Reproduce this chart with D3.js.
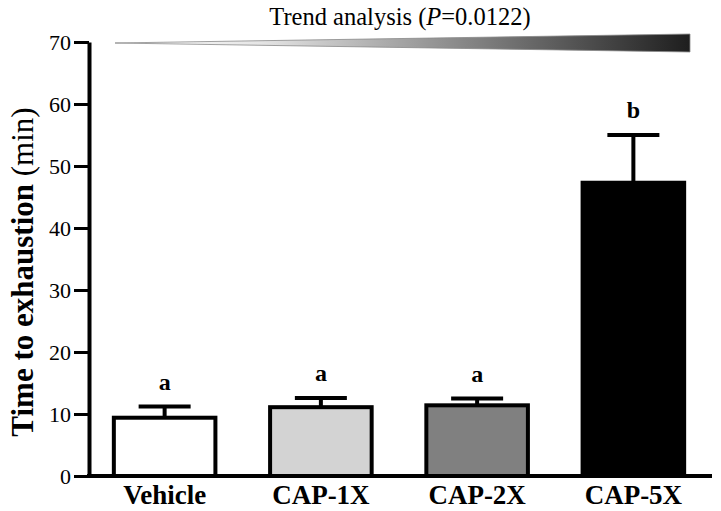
<!DOCTYPE html>
<meta charset="utf-8">
<head>
  <title>Time to exhaustion</title>
</head>
<style>
body { margin: 0; background: #fff; }
svg { display: block; }
text { font-family: "Liberation Serif", "Times New Roman", serif; fill: #000; }
</style>
<body>
<svg width=721 height=511></svg>
<script src="https://cdnjs.cloudflare.com/ajax/libs/d3/7.8.5/d3.min.js"></script>
<script>
var groups = ["Vehicle", "CAP-1X", "CAP-2X", "CAP-5X"];
var means = [9.4, 11.1, 11.4, 47.3];
var errs = [1.8, 1.5, 1.1, 7.7];
var letters = ["a", "a", "a", "b"];
var fills = ["#ffffff", "#d3d3d3", "#808080", "#000000"];
var yTicks = [0, 10, 20, 30, 40, 50, 60, 70];

var svg = d3.select("svg");

var x = d3.scaleBand()
  .domain(groups)
  .range([86.5, 711.5])
  .paddingInner(0.35)
  .paddingOuter(0.175);

var y = d3.scaleLinear()
  .domain([0, 70])
  .range([476, 42]);

// trend wedge
var defs = svg.append("defs");
var grad = defs.append("linearGradient").attr("id", "trend");
grad.append("stop").attr("offset", "0%").attr("stop-color", "#ffffff");
grad.append("stop").attr("offset", "25%").attr("stop-color", "#e6e6e6");
grad.append("stop").attr("offset", "100%").attr("stop-color", "#1e1e1e");

svg.append("path")
  .attr("d", "M115,43 L690,34 L690,52 Z")
  .attr("fill", "url(#trend)")
  .attr("stroke", "#8a8a8a")
  .attr("stroke-width", 0.8);

var title = svg.append("text")
  .attr("x", 400)
  .attr("y", 25)
  .attr("text-anchor", "middle")
  .style("font-size", "24.5px");
title.append("tspan").text("Trend analysis (");
title.append("tspan").style("font-style", "italic").text("P");
title.append("tspan").text("=0.0122)");

// error bars (drawn first so bar outline covers the stem base)
var eb = svg.append("g")
  .attr("stroke", "#000")
  .attr("stroke-width", 4);

eb.selectAll("line.stem")
  .data(groups)
  .enter()
  .append("line")
  .attr("class", "stem")
  .attr("x1", function(d){ return x(d) + x.bandwidth() / 2; })
  .attr("x2", function(d){ return x(d) + x.bandwidth() / 2; })
  .attr("y1", function(d, i){ return y(means[i]); })
  .attr("y2", function(d, i){ return y(means[i] + errs[i]); });

eb.selectAll("line.cap")
  .data(groups)
  .enter()
  .append("line")
  .attr("class", "cap")
  .attr("x1", function(d){ return x(d) + x.bandwidth() / 2 - 26; })
  .attr("x2", function(d){ return x(d) + x.bandwidth() / 2 + 26; })
  .attr("y1", function(d, i){ return y(means[i] + errs[i]); })
  .attr("y2", function(d, i){ return y(means[i] + errs[i]); });

svg.append("g")
  .selectAll("rect")
  .data(groups)
  .enter()
  .append("rect")
  .attr("x", function(d){ return x(d); })
  .attr("y", function(d, i){ return y(means[i]); })
  .attr("width", x.bandwidth())
  .attr("height", function(d, i){ return y(0) - y(means[i]); })
  .attr("fill", function(d, i){ return fills[i]; })
  .attr("stroke", "#000")
  .attr("stroke-width", 4);

svg.append("g")
  .selectAll("text")
  .data(groups)
  .enter()
  .append("text")
  .attr("x", function(d){ return x(d) + x.bandwidth() / 2; })
  .attr("y", function(d, i){ return y(means[i] + errs[i]) - 17; })
  .attr("text-anchor", "middle")
  .style("font-size", "24px")
  .style("font-weight", "bold")
  .text(function(d, i){ return letters[i]; });

// y axis
var yAxis = svg.append("g")
  .attr("transform", "translate(89,0)")
  .call(d3.axisLeft(y).tickValues(yTicks).tickSize(15).tickPadding(3).tickSizeOuter(0));
yAxis.select(".domain").attr("stroke-width", 4);
yAxis.selectAll(".tick line").attr("stroke-width", 3);
yAxis.selectAll(".tick text")
  .style("font-size", "22px")
  .style("font-family", "'Liberation Serif', serif");

// x axis
var xAxis = svg.append("g")
  .attr("transform", "translate(0,476)")
  .call(d3.axisBottom(x).tickSize(0).tickPadding(9).tickSizeOuter(0));
xAxis.select(".domain").attr("stroke-width", 4).attr("d", "M87,0H712");
xAxis.selectAll(".tick text")
  .style("font-size", "27px")
  .style("font-weight", "bold")
  .style("font-family", "'Liberation Serif', serif");

var ylab = svg.append("text")
  .attr("transform", "translate(33,272) rotate(-90)")
  .attr("text-anchor", "middle")
  .style("font-size", "31px");
ylab.append("tspan").style("font-weight", "bold").text("Time to exhaustion");
ylab.append("tspan").text(" (min)");
</script>
</body>
</html>
